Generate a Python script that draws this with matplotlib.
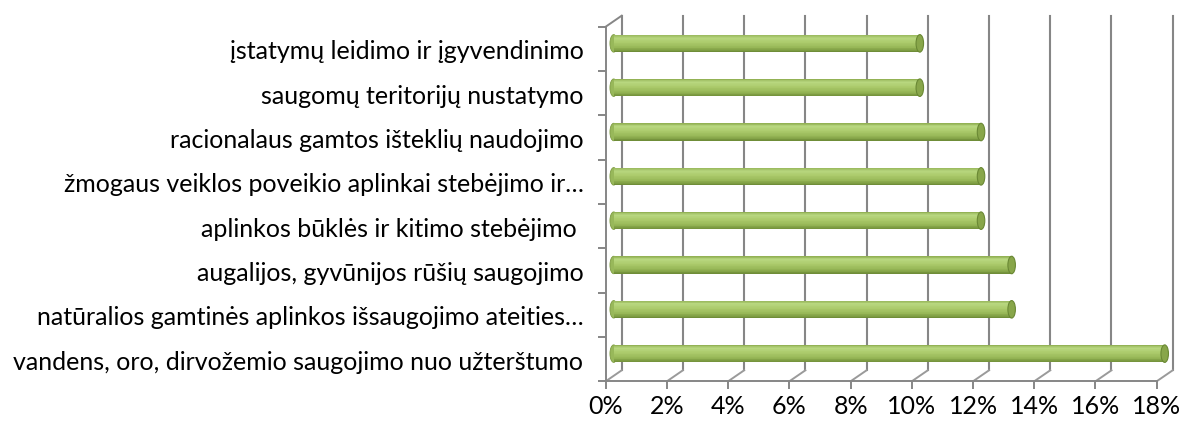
import numpy as np
import matplotlib.pyplot as plt
from matplotlib.colors import LinearSegmentedColormap
from matplotlib.patches import Ellipse

# categories listed bottom to top (barh order)
categories = [
    "vandens, oro, dirvožemio saugojimo nuo užterštumo",
    "natūralios gamtinės aplinkos išsaugojimo ateities…",
    "augalijos, gyvūnijos rūšių saugojimo",
    "aplinkos būklės ir kitimo stebėjimo ",
    "žmogaus veiklos poveikio aplinkai stebėjimo ir…",
    "racionalaus gamtos išteklių naudojimo",
    "saugomų teritorijų nustatymo",
    "įstatymų leidimo ir įgyvendinimo",
]
values = [18, 13, 13, 12, 12, 12, 10, 10]
xticks = [0, 2, 4, 6, 8, 10, 12, 14, 16, 18]
xtick_labels = [f"{t}%" for t in xticks]

W, H, DPI = 1183, 427, 100
plt.rcParams["font.family"] = ["Lato", "DejaVu Sans"]

fig = plt.figure(figsize=(W / DPI, H / DPI), dpi=DPI)
# front plane of the 3d box
ax = fig.add_axes([605.7 / W, (H - 382.3) / H, 551 / W, 354.6 / H])
n = len(categories)
ax.set_xlim(0, xticks[-1])
ax.set_ylim(-0.5, n - 0.5)

# depth of the box in data units (~16 px right, ~11 px up)
px_x = xticks[-1] / (551)
px_y = n / 354.6
depth_x = 16 * px_x
depth_y = 11 * px_y

grid_color = "#868686"
floor_color = "#9a9a9a"

# back wall gridlines
for t in xticks:
    ax.plot([t + depth_x, t + depth_x], [-0.5 + depth_y, n - 0.5 + depth_y],
            color=grid_color, lw=1.5, clip_on=False, zorder=1)
    # floor lines
    ax.plot([t, t + depth_x], [-0.5, -0.5 + depth_y],
            color=floor_color, lw=1.4, clip_on=False, zorder=1)

# left wall top edge
ax.plot([0, depth_x], [n - 0.5, n - 0.5 + depth_y],
        color=grid_color, lw=1.4, clip_on=False, zorder=1)

# cylinder bars
cyl_cmap = LinearSegmentedColormap.from_list(
    "cyl",
    [(0.0, "#8eae50"), (0.18, "#b8d780"), (0.45, "#abca6b"),
     (0.75, "#96b656"), (1.0, "#6c8a35")],
)
bar_h = 17.5 * px_y
cap_w = 7.5 * px_x
n_strips = 24
strip_h = bar_h / n_strips
for i, v in enumerate(values):
    yc = i + depth_y / 2
    x0 = depth_x / 2
    ax.add_patch(Ellipse((x0, yc), cap_w, bar_h, facecolor="#98b85a",
                         edgecolor="#7d9b42", lw=0.6, zorder=2, clip_on=False))
    for k in range(n_strips):
        ybot = yc + bar_h / 2 - (k + 1) * strip_h
        ax.barh(ybot, v, height=strip_h, left=x0, align="edge",
                color=cyl_cmap((k + 0.5) / n_strips), lw=0, zorder=3,
                clip_on=False)
    ax.add_patch(Ellipse((x0 + v, yc), cap_w, bar_h, facecolor="#88a64a",
                         edgecolor="#6a8834", lw=0.8, zorder=4, clip_on=False))

# axes
for side in ["top", "right"]:
    ax.spines[side].set_visible(False)
for side in ["left", "bottom"]:
    ax.spines[side].set_color(grid_color)
    ax.spines[side].set_linewidth(1.4)

ax.set_xticks(xticks)
ax.set_xticklabels(xtick_labels, fontsize=18, color="#000000")
ax.tick_params(axis="x", length=6, width=1.4, color=grid_color, pad=3)

ax.set_yticks(np.arange(-0.5, n, 1.0))
ax.set_yticklabels([])
ax.set_yticks(np.arange(n), minor=True)
ax.set_yticklabels(categories, minor=True, fontsize=18, color="#000000")
ax.tick_params(axis="y", which="major", length=6, width=1.4, color=grid_color)
ax.tick_params(axis="y", which="minor", length=0, pad=16)

ax.set_facecolor("none")
fig.savefig("out.png", dpi=DPI)
